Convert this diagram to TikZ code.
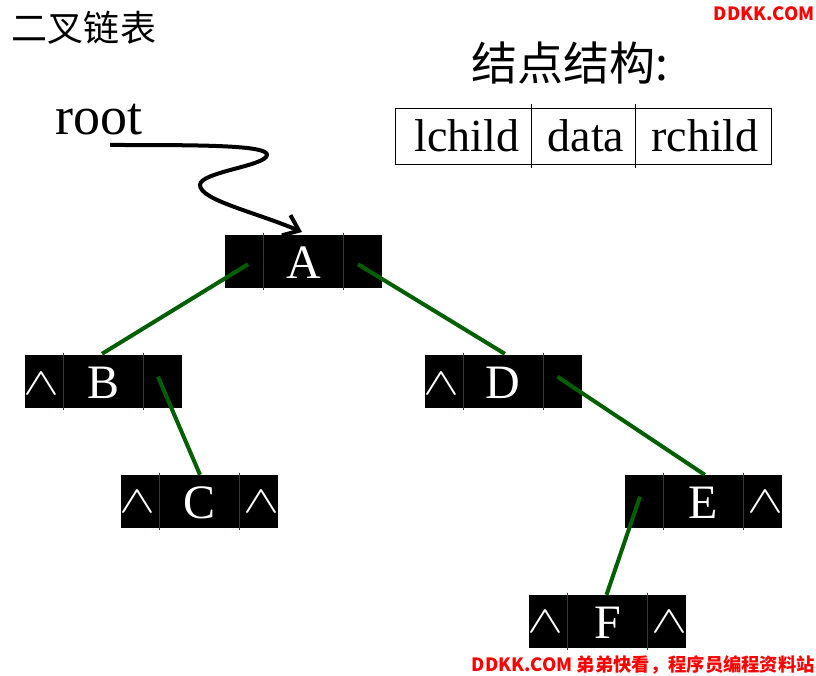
\documentclass[tikz,border=0pt]{standalone}
\usepackage{fontspec}
\setmainfont{Liberation Serif}
\newfontfamily\cjk{Noto Sans CJK SC}
\usetikzlibrary{arrows.meta,calc}
\definecolor{lk}{RGB}{0,96,0}
\definecolor{wm}{RGB}{255,0,0}
\newcommand\nilsym{\scalebox{2.6}[1.85]{$\wedge$}}
\tikzset{
  cellbox/.style={fill=black,draw=none,minimum width=157pt,minimum height=53pt,inner sep=0pt},
  divl/.style={draw=lk,line width=0.9pt},
  letter/.style={text=white,inner sep=0pt,anchor=base,font=\fontsize{48}{48}\selectfont},
  nilp/.style={text=white,inner sep=0pt,font=\fontsize{20}{20}\selectfont},
  link/.style={draw=lk,line width=4pt},
  fieldtxt/.style={inner sep=0pt,anchor=base,font=\fontsize{46}{46}\selectfont},
  wmark/.style={text=wm,inner sep=0pt,anchor=east,font=\cjk\bfseries\fontsize{18.3}{18.3}\selectfont}
}
\newcommand\lnode[4]{% name, cx, cy, letter
  \node[cellbox] (#1) at (#2,#3) {};
  \draw[divl] ({#2-40},{#3-28.5}) -- ({#2-40},{#3+28.5});
  \draw[divl] ({#2+40},{#3-28.5}) -- ({#2+40},{#3+28.5});
  \node[letter] (#1m) at (#2,{#3+17}) {#4};
}
\begin{document}
\begin{tikzpicture}[x=1pt,y=-1pt]
\useasboundingbox[fill=white] (0,0) rectangle (816,676);
% titles
\node[inner sep=0pt,font=\cjk\fontsize{36}{36}\selectfont] (title) at (84,27.5) {二叉链表};
\node[inner sep=0pt,font=\cjk\fontsize{46}{46}\selectfont] (stitle) at (570,63) {结点结构:};
% structure box
\node[draw=black,line width=1.3pt,minimum width=376pt,minimum height=56pt,inner sep=0pt] (sbox) at (583.5,136.3) {};
\draw[line width=1.3pt] (531.7,104) -- (531.7,168);
\draw[line width=1.3pt] (635.7,104) -- (635.7,168);
\node[fieldtxt] (lc) at (467,151.5) {lchild};
\node[fieldtxt] (dt) at (586,151.5) {data};
\node[fieldtxt] (rc) at (705,151.5) {rchild};
% nodes
\lnode{A}{303.5}{261.5}{A}
\lnode{B}{103.5}{381.5}{B}
\lnode{C}{199.5}{501.5}{C}
\lnode{D}{503.3}{381.5}{D}
\lnode{E}{703.3}{501.5}{E}
\lnode{F}{607.5}{621.5}{F}
% nil pointers
\node[nilp] (Bl) at (41,383.5) {\nilsym};
\node[nilp] (Cl) at (137,502) {\nilsym};
\node[nilp] (Cr) at (261.5,502) {\nilsym};
\node[nilp] (Dl) at (441,383.5) {\nilsym};
\node[nilp] (Er) at (765.5,502) {\nilsym};
\node[nilp] (Fl) at (545,622) {\nilsym};
\node[nilp] (Fr) at (669.5,622) {\nilsym};
% pointer coordinates
\coordinate (Apl) at (248,264.3);
\coordinate (Apr) at (358,264.3);
\coordinate (Bpr) at (158,376.7);
\coordinate (Dpr) at (557.5,376.7);
\coordinate (Epl) at (640,496.7);
\draw[link] (Apl) -- ($(B.north)+(-1.5,-1)$);
\draw[link] (Apr) -- ($(D.north)+(1.5,-1)$);
\draw[link] (Bpr) -- ($(C.north)+(0.5,0)$);
\draw[link] (Dpr) -- ($(E.north)+(1.5,0)$);
\draw[link] (Epl) -- ($(F.north)+(-1,0)$);
% root
\node[inner sep=0pt,anchor=base west,font=\fontsize{54}{54}\selectfont] (root) at (55.5,135) {root};
\coordinate (rs) at (110,145);
\coordinate (rt) at (302,232);
\draw[line width=4pt,-{Straight Barb[length=14pt,width=22pt]}] (rs) .. controls (200,145) and (268,145) .. (267,155) .. controls (266,166) and (200,172) .. (200,185) .. controls (200,200) and (255,212) .. (rt);
% watermarks
\node[wmark] (wm1) at (815,14) {DDKK.COM};
\node[wmark] (wm2) at (815,665) {DDKK.COM 弟弟快看，程序员编程资料站};
\end{tikzpicture}
\end{document}
